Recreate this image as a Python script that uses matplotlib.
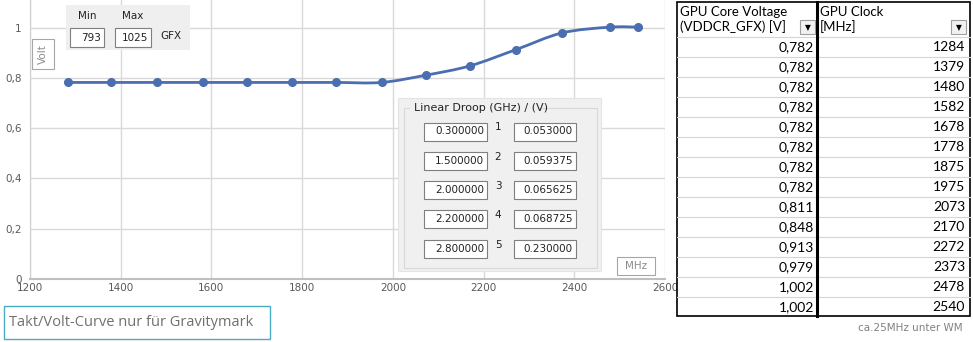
import matplotlib
matplotlib.use("Agg")
import matplotlib.pyplot as plt
from matplotlib.path import Path
from matplotlib.patches import PathPatch, Rectangle
import numpy as np

# data
clock_mhz = [1284, 1379, 1480, 1582, 1678, 1778, 1875, 1975, 2073, 2170, 2272, 2373, 2478, 2540]
voltage_v = [0.782, 0.782, 0.782, 0.782, 0.782, 0.782, 0.782, 0.782, 0.811, 0.848, 0.913, 0.979, 1.002, 1.002]
x_ticks = [1200, 1400, 1600, 1800, 2000, 2200, 2400, 2600]
y_ticks = [0, 0.2, 0.4, 0.6, 0.8, 1.0]
y_tick_labels = ["0", "0,2", "0,4", "0,6", "0,8", "1"]
voltage_labels = ["0,782", "0,782", "0,782", "0,782", "0,782", "0,782", "0,782",
                  "0,782", "0,811", "0,848", "0,913", "0,979", "1,002", "1,002"]
droop_ghz = ["0.300000", "1.500000", "2.000000", "2.200000", "2.800000"]
droop_v = ["0.053000", "0.059375", "0.065625", "0.068725", "0.230000"]
gfx_min, gfx_max = "793", "1025"

W, H = 973, 342
blue = "#4a6eb0"
grid_c = "#d9d9d9"
txt_c = "#595959"

fig = plt.figure(figsize=(W / 100, H / 100), dpi=100)
fig.patch.set_facecolor("white")

# main chart, pixel box x 30..665, y 0..279
ax = fig.add_axes([30 / W, (H - 279) / H, 635 / W, 279 / H])
ax.set_xlim(1200, 2600)
ax.set_ylim(0, 1.11)
ax.set_xticks(x_ticks)
ax.set_yticks(y_ticks)
ax.set_yticklabels(y_tick_labels)
ax.grid(True, color=grid_c, linewidth=1.0)
ax.set_axisbelow(True)
for s in ["top", "right"]:
    ax.spines[s].set_visible(False)
ax.spines["left"].set_color("#d0d0d0")
ax.spines["bottom"].set_color("#bfbfbf")
ax.spines["bottom"].set_linewidth(1.5)
ax.tick_params(length=0, labelsize=7.5, colors=txt_c)
ax.tick_params(axis="x", pad=3)
ax.tick_params(axis="y", pad=6)

# smoothed line (Catmull-Rom -> cubic bezier), then markers
pts = np.column_stack([clock_mhz, voltage_v])
verts = [tuple(pts[0])]
codes = [Path.MOVETO]
n = len(pts)
for i in range(n - 1):
    p0 = pts[max(i - 1, 0)]
    p1 = pts[i]
    p2 = pts[i + 1]
    p3 = pts[min(i + 2, n - 1)]
    c1 = p1 + (p2 - p0) / 6
    c2 = p2 - (p3 - p1) / 6
    verts += [tuple(c1), tuple(c2), tuple(p2)]
    codes += [Path.CURVE4] * 3
ax.add_patch(PathPatch(Path(verts, codes), fill=False, edgecolor=blue, linewidth=2.0, zorder=3))
ax.plot(clock_mhz, voltage_v, linestyle="none", marker="o", markersize=5.5, color=blue, zorder=4)

# overlay in pixel coordinates for the widgets and table
ov = fig.add_axes([0, 0, 1, 1], zorder=10)
ov.set_xlim(0, W)
ov.set_ylim(H, 0)
ov.axis("off")
ov.patch.set_alpha(0)


def box(x0, y0, x1, y1, fc="white", ec="#7f7f7f", lw=0.8):
    ov.add_patch(Rectangle((x0, y0), x1 - x0, y1 - y0, facecolor=fc, edgecolor=ec, linewidth=lw))


# Min / Max widget
box(66, 5, 190, 50, fc="#efefef", ec="none")
ov.text(87, 16, "Min", fontsize=7.5, color="#222222", ha="center", va="center")
ov.text(133, 16, "Max", fontsize=7.5, color="#222222", ha="center", va="center")
box(70, 28, 104, 47)
box(115, 28, 151, 47)
ov.text(101, 38, gfx_min, fontsize=7.5, color="#222222", ha="right", va="center")
ov.text(148, 38, gfx_max, fontsize=7.5, color="#222222", ha="right", va="center")
ov.text(160, 36, "GFX", fontsize=7.5, color="#222222", ha="left", va="center")

# Volt label
box(32, 39, 54, 69, ec="#a6a6a6")
ov.text(43, 54, "Volt", fontsize=7.5, color="#8c8c8c", ha="center", va="center", rotation=90)

# MHz label
box(617, 257, 655, 275, ec="#a6a6a6")
ov.text(636, 266, "MHz", fontsize=7.5, color="#8c8c8c", ha="center", va="center")

# Linear droop panel
box(398, 98, 601, 271, fc="#f0f0f0", ec="#e4e4e4")
box(404, 108, 597, 268, fc="none", ec="#d8d8d8")
ov.add_patch(Rectangle((410, 102), 130, 12, facecolor="#f0f0f0", edgecolor="none"))
ov.text(414, 108, "Linear Droop (GHz) / (V)", fontsize=8, color="#222222", ha="left", va="center")
for i in range(5):
    yc = 131.5 + i * 29.3
    box(424, yc - 9, 487, yc + 9, ec="#7f7f7f")
    box(514, yc - 9, 576, yc + 9, ec="#7f7f7f")
    ov.text(484, yc, droop_ghz[i], fontsize=7.5, color="#222222", ha="right", va="center")
    ov.text(573, yc, droop_v[i], fontsize=7.5, color="#222222", ha="right", va="center")
    ov.text(498, yc - 4, str(i + 1), fontsize=7.5, color="#222222", ha="center", va="center")

# spreadsheet table on the right
box(677, 2, 970, 316, fc="white", ec="black", lw=1.2)
for i in range(len(clock_mhz)):
    yc = 46.7 + 20 * i
    ov.plot([677, 970], [yc - 10, yc - 10], color="#d4d4d4", linewidth=0.8)
    ov.text(814, yc, voltage_labels[i], fontsize=10, color="black", ha="right", va="center",
            family="Lato")
    ov.text(965, yc, str(clock_mhz[i]), fontsize=10, color="black", ha="right", va="center",
            family="Lato")
ov.plot([817, 817], [2, 316], color="black", linewidth=2.2)
ov.text(680, 12, "GPU Core Voltage", fontsize=9.5, color="black", ha="left", va="center", family="Lato")
ov.text(680, 27, "(VDDCR_GFX) [V]", fontsize=9.5, color="black", ha="left", va="center", family="Lato")
ov.text(820, 12, "GPU Clock", fontsize=9.5, color="black", ha="left", va="center", family="Lato")
ov.text(820, 27, "[MHz]", fontsize=9.5, color="black", ha="left", va="center", family="Lato")
for bx in [800, 951]:
    box(bx, 20, bx + 15, 34, fc="#f2f2f2", ec="#a0a0a0")
    ov.text(bx + 7.5, 27.5, "\u25bc", fontsize=5.5, color="black", ha="center", va="center")

# caption boxes
box(4, 306, 270, 339, ec="#4bacc6", lw=1.0)
ov.text(9, 323, "Takt/Volt-Curve nur für Gravitymark", fontsize=10.5, color="#707070",
        ha="left", va="center", family="Open Sans")
ov.text(963, 328, "ca.25MHz unter WM", fontsize=7.5, color="#808080", ha="right", va="center")

fig.savefig("out.png", dpi=100)
